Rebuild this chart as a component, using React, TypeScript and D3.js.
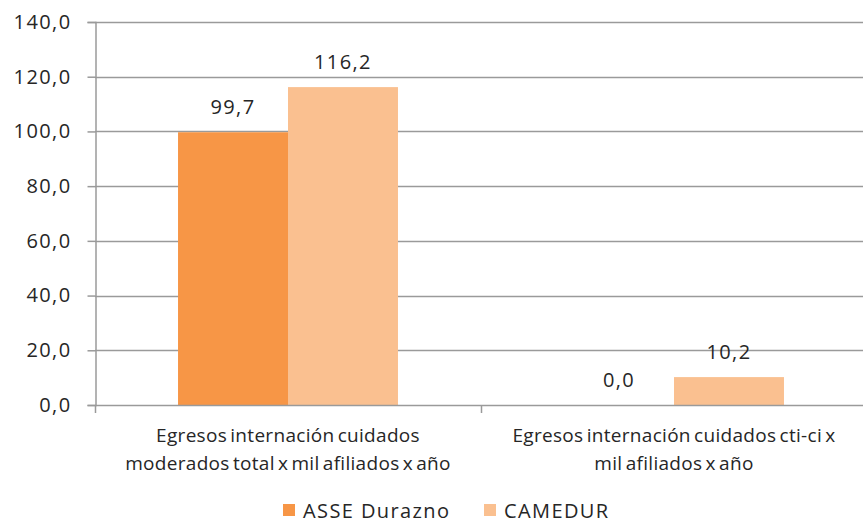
import React, { useEffect, useRef } from 'react';
import * as d3 from 'd3';

const categories = [
  ['Egresos internación cuidados', 'moderados total x mil afiliados x año'],
  ['Egresos internación cuidados cti-ci x', 'mil afiliados x año'],
];
const seriesNames = ['ASSE Durazno', 'CAMEDUR'];
const asseValues = [99.7, 0.0];
const camedurValues = [116.2, 10.2];
const yTicks = [0, 20, 40, 60, 80, 100, 120, 140];
const colors = ['#F79646', '#FAC090'];

const W = 863;
const H = 521;
const fmt = (v: number) => d3.format('.1f')(v).replace('.', ',');
const FONT = '"Open Sans", "Liberation Sans", sans-serif';

export default function App() {
  const svgRef = useRef<SVGSVGElement>(null);

  useEffect(() => {
    const svg = d3.select(svgRef.current);
    svg.selectAll('*').remove();

    const x0 = d3.scaleBand().domain(['0', '1']).range([95, 867]);
    const x1 = d3.scaleBand().domain(seriesNames).range([0, x0.bandwidth()]).paddingOuter(0.755).paddingInner(0);
    const y = d3.scaleLinear().domain([0, 140]).range([405, 22]);

    // grid
    svg.append('g')
      .selectAll('line')
      .data(yTicks.filter(t => t > 0))
      .join('line')
      .attr('x1', 95).attr('x2', W)
      .attr('y1', d => Math.round(y(d)) + 0.5).attr('y2', d => Math.round(y(d)) + 0.5)
      .attr('stroke', '#9a9a9a').attr('stroke-width', 1.5);

    // y axis
    const yAxis = d3.axisLeft(y).tickValues(yTicks).tickSize(8).tickFormat(d => fmt(d as number));
    const gy = svg.append('g').attr('transform', 'translate(95.5,0)').call(yAxis);
    gy.select('.domain').attr('stroke', '#9a9a9a').attr('stroke-width', 1.5);
    gy.selectAll('.tick line').attr('stroke', '#9a9a9a').attr('stroke-width', 1.5);
    gy.selectAll('.tick text')
      .attr('x', -24)
      .attr('fill', '#262626')
      .style('font-family', FONT)
      .style('font-size', '20px')
      .style('letter-spacing', '1.4px');

    // bars
    const data = [asseValues, camedurValues];
    seriesNames.forEach((s, si) => {
      svg.append('g')
        .selectAll('rect')
        .data(data[si])
        .join('rect')
        .attr('x', (d, i) => (x0(String(i)) as number) + (x1(s) as number))
        .attr('y', d => y(d))
        .attr('width', x1.bandwidth())
        .attr('height', d => y(0) - y(d))
        .attr('fill', colors[si]);

      svg.append('g')
        .selectAll('text')
        .data(data[si])
        .join('text')
        .attr('x', (d, i) => (x0(String(i)) as number) + (x1(s) as number) + x1.bandwidth() / 2)
        .attr('y', d => y(d) - 18)
        .attr('text-anchor', 'middle')
        .attr('fill', '#262626')
        .style('font-family', FONT)
        .style('font-size', '20px')
        .style('letter-spacing', '1.4px')
        .text(d => fmt(d));
    });

    // x axis
    svg.append('line')
      .attr('x1', 95).attr('x2', W)
      .attr('y1', 405.5).attr('y2', 405.5)
      .attr('stroke', '#9a9a9a').attr('stroke-width', 1.5);
    svg.append('g')
      .selectAll('line')
      .data([95, 95 + x0.bandwidth()])
      .join('line')
      .attr('x1', d => d + 0.5).attr('x2', d => d + 0.5)
      .attr('y1', 405).attr('y2', 413)
      .attr('stroke', '#9a9a9a').attr('stroke-width', 1.5);

    // category labels
    categories.forEach((lines, i) => {
      const cx = (x0(String(i)) as number) + x0.bandwidth() / 2;
      const t = svg.append('text')
        .attr('text-anchor', 'middle')
        .attr('fill', '#262626')
        .style('font-family', FONT)
        .style('font-size', '19px')
        .style('letter-spacing', '0.3px')
        .style('word-spacing', '-2px');
      lines.forEach((l, li) => {
        t.append('tspan').attr('x', cx).attr('y', 442 + li * 28).text(l);
      });
    });

    // legend
    const legendX = [283, 484];
    seriesNames.forEach((s, i) => {
      svg.append('rect')
        .attr('x', legendX[i]).attr('y', 504)
        .attr('width', 12).attr('height', 12)
        .attr('fill', colors[i]);
      svg.append('text')
        .attr('x', legendX[i] + 20).attr('y', 518)
        .attr('fill', '#262626')
        .style('font-family', FONT)
        .style('font-size', '20px')
        .style('letter-spacing', '1.4px')
        .text(s);
    });
  }, []);

  return (
    <svg ref={svgRef} width={W} height={H} style={{ position: 'absolute', left: 0, top: 0, background: '#fff' }} />
  );
}
